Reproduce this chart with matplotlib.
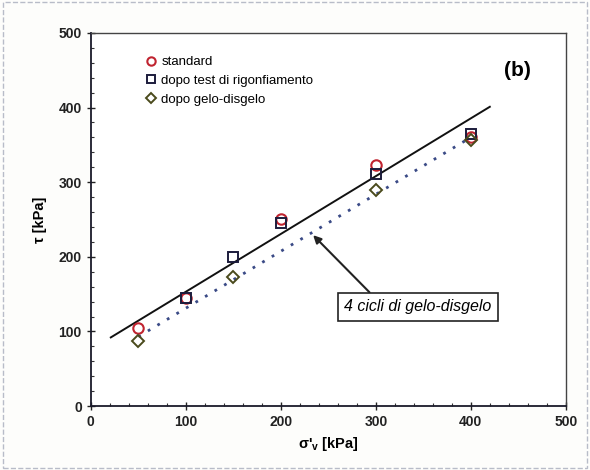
import matplotlib
matplotlib.use("Agg")
import matplotlib.pyplot as plt
from matplotlib.ticker import MultipleLocator
from matplotlib.patches import Rectangle

plt.rcParams["font.family"] = ["Liberation Sans", "DejaVu Sans"]

# --- data
std_x = [50, 100, 200, 300, 400]
std_y = [104, 145, 250, 323, 360]
rig_x = [100, 150, 200, 300, 400]
rig_y = [145, 200, 245, 311, 365]
gel_x = [50, 150, 300, 400]
gel_y = [87, 173, 290, 357]
fit_std_x = [21, 420]
fit_std_y = [92, 401]
fit_gel_x = [50, 400]
fit_gel_y = [93, 360]

fig = plt.figure(figsize=(5.9, 4.7), dpi=100)
fig.patch.set_facecolor("#fdfdfb")
ax = fig.add_axes([0.154, 0.136, 0.805, 0.794])
ax.set_facecolor("white")

ax.plot(fit_std_x, fit_std_y, "-", color="#111111", lw=1.4, zorder=2)
ax.plot(fit_gel_x, fit_gel_y, color="#3a4a86", lw=2.0, ls=(0, (1, 3)),
        zorder=2)

ax.plot(std_x, std_y, "o", mfc="none", mec="#c02430", mew=1.5, ms=7.5,
        label="standard", zorder=3)
ax.plot(rig_x, rig_y, "s", mfc="none", mec="#1c1c3c", mew=1.4, ms=7.5,
        label="dopo test di rigonfiamento", zorder=3)
ax.plot(gel_x, gel_y, "D", mfc="none", mec="#4a4a1c", mew=1.4, ms=6.5,
        label="dopo gelo-disgelo", zorder=3)

ax.set_xlim(0, 500)
ax.set_ylim(0, 500)
ax.xaxis.set_major_locator(MultipleLocator(100))
ax.yaxis.set_major_locator(MultipleLocator(100))
ax.xaxis.set_minor_locator(MultipleLocator(20))
ax.yaxis.set_minor_locator(MultipleLocator(20))
ax.tick_params(which="major", direction="inout", length=6, labelsize=10,
               width=1.0, colors="#222222")
ax.tick_params(which="minor", direction="in", length=2.5, width=0.8,
               colors="#333333")
for lab in ax.get_xticklabels() + ax.get_yticklabels():
    lab.set_fontweight("bold")

for s in ["left", "bottom"]:
    ax.spines[s].set_linewidth(1.3)
    ax.spines[s].set_color("#1a1a2a")
for s in ["top", "right"]:
    ax.spines[s].set_linewidth(1.0)
    ax.spines[s].set_color("#444444")

ax.set_xlabel("σ'$_\\mathregular{v}$ [kPa]", fontsize=10.5, fontweight="bold")
ax.set_ylabel("τ [kPa]", fontsize=10.5, fontweight="bold", labelpad=8)

ax.legend(loc="upper left", bbox_to_anchor=(0.09, 0.97), frameon=False,
          fontsize=9.5, handlelength=0.8, handletextpad=0.4, labelspacing=0.5,
          markerscale=0.8)

ax.text(449, 450, "(b)", fontsize=15, fontweight="bold", ha="center",
        va="center")

ax.annotate("4 cicli di gelo-disgelo", xy=(234, 229), xytext=(344, 133),
            fontsize=11.5, style="italic", ha="center", va="center",
            bbox=dict(boxstyle="square,pad=0.4", fc="white", ec="#222222",
                      lw=1.2),
            arrowprops=dict(arrowstyle="-|>", color="#222222", lw=1.5,
                            shrinkA=0, shrinkB=0, relpos=(0.22, 1.0)))

fig.patches.append(Rectangle((0.005, 0.005), 0.99, 0.99,
                             transform=fig.transFigure, fill=False,
                             ec="#b8bcc8", lw=1.0, ls="--"))

fig.savefig("out.png", dpi=100)
